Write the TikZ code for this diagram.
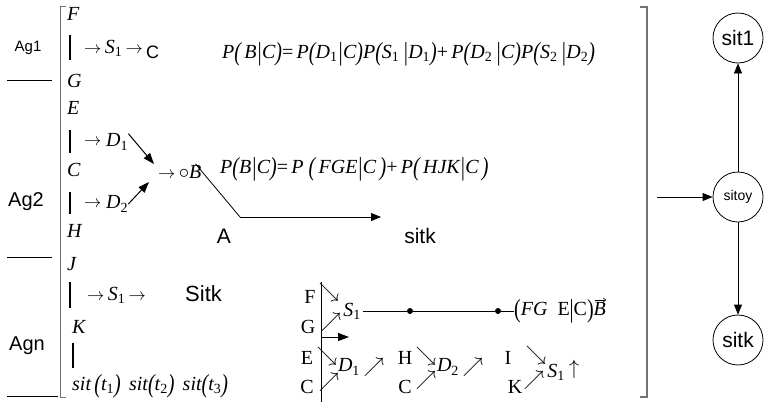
\documentclass[tikz,border=0pt]{standalone}
\usepackage{fontspec}
\usepackage{graphicx}
\setmainfont{Liberation Serif}
\newfontfamily\arial{Liberation Sans}
\usetikzlibrary{arrows.meta,calc}
\newcommand\LP{\raisebox{-0.08em}{\scalebox{1}[1.3]{(}}}
\newcommand\RP{\raisebox{-0.08em}{\scalebox{1}[1.3]{)}}}
\newcommand\VB{\raisebox{-0.08em}{\scalebox{1}[1.3]{|}}}
\newcommand\sbs[1]{\textsubscript{#1}}
\newcommand\RA{{\fontsize{16}{16}\selectfont$\rightarrow$}}
\begin{document}
\begin{tikzpicture}[x=1pt,y=-1pt,
  txt/.style={inner sep=0pt,font=\fontsize{20}{22}\selectfont},
  itxt/.style={inner sep=0pt,font=\fontsize{20}{22}\selectfont\itshape},
  sans/.style={inner sep=0pt,font=\arial\fontsize{#1}{#1}\selectfont},
  glyph/.style={inner sep=0pt,font=\fontsize{20}{20}\selectfont},
  vbar/.style={line width=1.3pt},
  brk/.style={draw=gray!90!black,line width=1.1pt},
  thick arrow/.style={line width=1pt,-{Triangle[length=11pt,width=8pt]}},
  circ/.style={circle,draw,line width=0.8pt,minimum size=50pt,inner sep=0pt},
  conn/.style={line width=0.8pt,-{Triangle[length=10pt,width=8pt]}},
  dot/.style={circle,fill,inner sep=0pt,minimum size=6pt}]
\useasboundingbox (0,0) rectangle (764,402);
% brackets and left rules
\draw[brk,line width=0.8pt] (66,6) -- (60,6) -- (60,397) -- (66,397);
\draw[brk] (640,7) -- (647,7) -- (647,397) -- (640,397);
\draw[line width=0.8pt] (7,80) -- (52,80);
\draw[line width=0.8pt] (7,257) -- (52,257);
\draw[line width=0.8pt] (7,396) -- (58,396);
% agent labels
\node[sans=15] (ag1) at (28,48) {Ag1};
\node[sans=20] (ag2) at (26,202) {Ag2};
\node[sans=20] (agn) at (27,346) {Agn};
% column
\node[itxt,anchor=west] (F) at (67,14) {F};
\draw[vbar] (70,35) -- (70,60);
\node[itxt,anchor=west] (r1) at (84,48) {\RA\,\textit{S}\sbs{\upshape 1}\,\RA};
\node[sans=18,anchor=west] (c1) at (146,52) {C};
\node[itxt,anchor=west] (G) at (67,81) {G};
\node[itxt,anchor=west] (E) at (67,108) {E};
\draw[vbar] (70,130) -- (70,153);
\node[itxt,anchor=west] (ar1) at (84,142) {\RA};
\node[itxt,anchor=west] (d1) at (106,142) {D\sbs{\upshape 1}};
\node[itxt,anchor=west] (C) at (67,170) {C};
\draw[vbar] (70,192) -- (70,214);
\node[itxt,anchor=west] (ar2) at (84,204) {\RA};
\node[itxt,anchor=west] (d2) at (106,204) {D\sbs{\upshape 2}};
\node[itxt,anchor=west] (H) at (67,231) {H};
\node[itxt,anchor=west] (J) at (67,264) {J};
\draw[vbar] (70,282) -- (70,308);
\node[itxt,anchor=west] (r4) at (87,295) {\RA\,\textit{S}\sbs{\upshape 1}\,\RA};
\node[sans=22,anchor=west] (sitk1) at (185,294) {Sitk};
\node[itxt,anchor=west] (K) at (72,327) {K};
\draw[vbar] (73,343) -- (73,368);
\node[itxt,anchor=west] (sits) at (72,386) {sit\,\LP t\sbs{\upshape 1}\RP\ \,sit\LP t\sbs{\upshape 2}\RP\ \,sit\LP t\sbs{\upshape 3}\RP};
% B node and arrows
\node[itxt,anchor=west] (B) at (158,172) {\RA\,$\circ$\textit{B}};
\draw[thick arrow] (d1.north east) -- ($(B.west)+(-4,-8)$);
\draw[thick arrow] (d2.east) -- ($(B.west)+(-9,10)$);
\coordinate (bend) at (240,217);
\coordinate (aend) at (381,217);
\draw[line width=0.8pt] ($(B.east)+(-6,-8)$) -- (bend);
\draw[conn] (bend) -- (aend);
\node[sans=21] (A) at (224,236) {A};
\node[sans=21] (sitk2) at (420,236) {sitk};
% equations
\node[itxt,anchor=west] (eq1) at (222,54) {P\LP\,B\VB C\RP{\upshape=}\,P\LP D\sbs{\upshape 1}\VB C\RP P\LP S\sbs{\upshape 1}\,\VB D\sbs{\upshape 1}\RP{\upshape+}\,P\LP D\sbs{\upshape 2}\,\VB C\RP P\LP S\sbs{\upshape 2}\,\VB D\sbs{\upshape 2}\RP};
\node[itxt,anchor=west] (eq2) at (220,169) {P\LP B\VB C\RP{\upshape=}\,P\ \LP\,FGE\VB C\,\RP{\upshape+}\,P\LP\,HJK\VB C\,\RP};
% bottom right group
\draw[line width=0.8pt] (321,282) -- (321,402);
\node[txt] (bF) at (310,297) {F};
\node[glyph] (g1) at (329,292) {$\searrow$};
\node[itxt] (bS1) at (352,311) {S\sbs{\upshape 1}};
\node[dot] (dot1) at (410,311) {};
\node[dot] (dot2) at (498,311) {};
\node[txt,anchor=west] (expr) at (514,311) {\LP\textit{FG}\ \ E\VB C\RP\textit{B}};
\draw[line width=0.6pt,-{Straight Barb[length=2.5pt,width=4pt]}] ([xshift=-11pt,yshift=-1pt]expr.north east) -- ([xshift=0pt,yshift=-1pt]expr.north east);
\draw[line width=0.8pt] (bS1.east) ++(2,0) -- (dot1);
\draw[line width=0.8pt] (dot1) -- (dot2);
\draw[line width=0.8pt] (dot2) -- (expr.west);
\node[txt] (bG) at (308,327) {G};
\node[glyph] (g2) at (331,322) {$\nearrow$};
\coordinate (tstart) at (321,337);
\coordinate (tend) at (349,337);
\draw[thick arrow] (tstart) -- (tend);
\node[txt] (bE) at (307,358) {E};
\node[glyph] (g3) at (327,356) {$\searrow$};
\node[itxt] (bD1) at (349,367) {D\sbs{\upshape 1}};
\node[glyph] (g4) at (374,367) {$\nearrow$};
\node[txt] (bH) at (405,358) {H};
\node[glyph] (g5) at (426,356) {$\searrow$};
\node[itxt] (bD2) at (448,367) {D\sbs{\upshape 2}};
\node[glyph] (g6) at (473,367) {$\nearrow$};
\node[txt] (bI) at (508,358) {I};
\node[glyph] (g7) at (536,355) {$\searrow$};
\node[itxt] (bS2) at (556,372) {S\sbs{\upshape 1}};
\node[glyph] (g8) at (574,369) {$\uparrow$};
\node[txt] (bC1) at (307,387) {C};
\node[glyph] (g9) at (329,382) {$\nearrow$};
\node[txt] (bC2) at (405,387) {C};
\node[glyph] (g10) at (426,380) {$\nearrow$};
\node[txt] (bK) at (515,387) {K};
\node[glyph] (g11) at (534,380) {$\nearrow$};
% right graph
\node[circ] (sitoy) at (738,197) {\arial\fontsize{14}{14}\selectfont sitoy};
\node[circ] (sit1) at (738,38) {\arial\fontsize{21}{21}\selectfont sit1};
\node[circ] (sitk) at (738,340) {\arial\fontsize{21}{21}\selectfont sitk};
\coordinate (inl) at (657,197);
\draw[conn] (inl) -- (sitoy);
\draw[conn] (sitoy) -- (sit1);
\draw[conn] (sitoy) -- (sitk);
\end{tikzpicture}
\end{document}
